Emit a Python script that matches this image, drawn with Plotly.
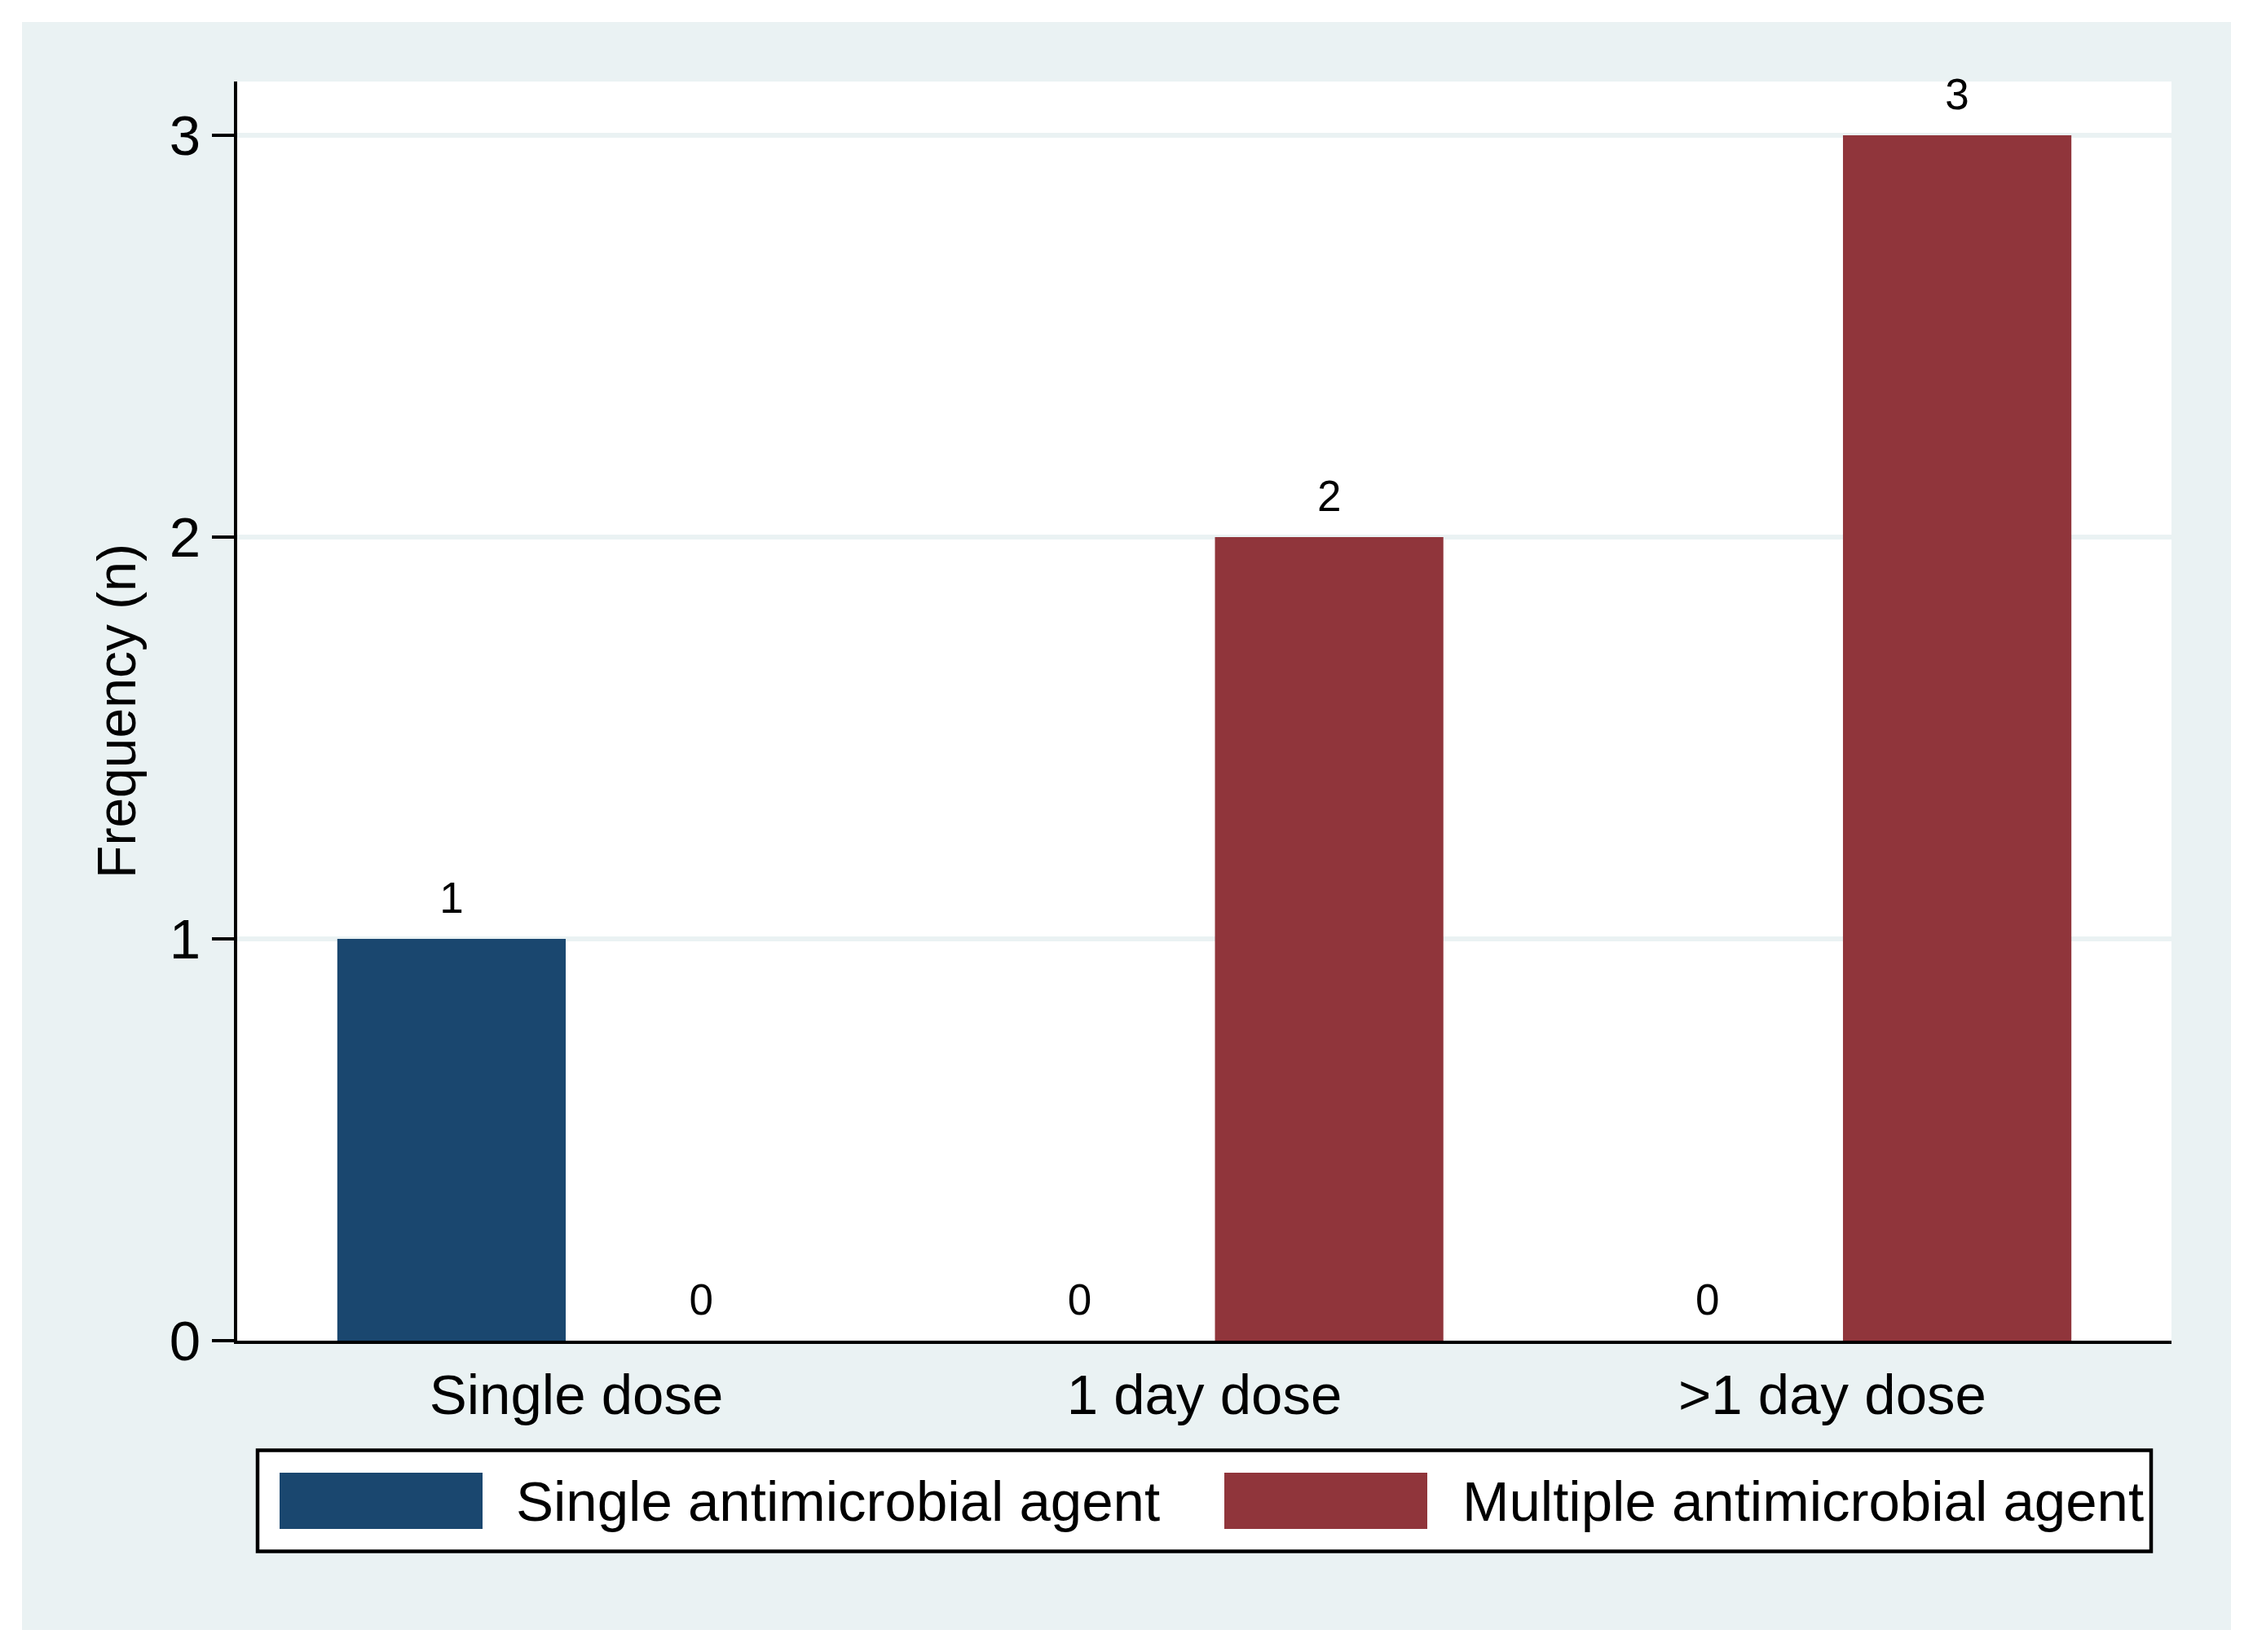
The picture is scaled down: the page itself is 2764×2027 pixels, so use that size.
import plotly.graph_objects as go

# ---- data ----
categories = ["Single dose", "1 day dose", ">1 day dose"]
series_names = ["Single antimicrobial agent", "Multiple antimicrobial agent"]
single_agent = [1, 0, 0]
multiple_agent = [0, 2, 3]
y_ticks = [0, 1, 2, 3]

colors = ["#1A476F", "#90353B"]
FONT = "Liberation Sans, Arial, sans-serif"

# ---- geometry (pixels) ----
OFF = 8  # page body margin
W, H = 2764 - 2 * OFF, 2027 - 2 * OFF
L, T = 291 - OFF, 100 - OFF
R = W - (2664 - OFF)
B = H - (1645 - OFF)
PW, PH = W - L - R, H - T - B


def px(x):
    """page pixel x -> paper x"""
    return (x - OFF - L) / PW


def py(y):
    """page pixel y -> paper y"""
    return (H - B - (y - OFF)) / PH


series_values = [single_agent, multiple_agent]
fig = go.Figure()
for i, (name, vals) in enumerate(zip(series_names, series_values)):
    fig.add_trace(go.Bar(
        x=categories, y=vals, name=name, marker_color=colors[i],
        marker_line_width=0, showlegend=False, offsetgroup=str(i),
    ))
for i, (name, vals) in enumerate(zip(series_names, series_values)):
    fig.add_trace(go.Scatter(
        x=categories, y=vals, mode="markers+text", text=[str(v) for v in vals],
        textposition="top center", textfont=dict(family=FONT, size=53, color="black"),
        marker=dict(size=28, opacity=0), showlegend=False, hoverinfo="skip",
        offsetgroup=str(i), cliponaxis=False,
    ))

shapes = [
    dict(type="rect", xref="paper", yref="paper", x0=px(27), x1=px(2737), y0=py(2000), y1=py(27),
         fillcolor="#EAF2F3", line_width=0, layer="below"),
    dict(type="rect", xref="paper", yref="paper", x0=0, x1=1, y0=0, y1=1,
         fillcolor="white", line_width=0, layer="below"),
    dict(type="rect", xref="paper", yref="paper", x0=px(316), x1=px(2639), y0=py(1903.5), y1=py(1779.5),
         fillcolor="white", line=dict(color="black", width=4.5), layer="above"),
]
swatch_x = [(343, 592), (1502, 1751)]
text_x = [631, 1792]
annotations = []
for i, name in enumerate(series_names):
    shapes.append(dict(type="rect", xref="paper", yref="paper",
                       x0=px(swatch_x[i][0]), x1=px(swatch_x[i][1]), y0=py(1876), y1=py(1807),
                       fillcolor=colors[i], line_width=0, layer="above"))
    annotations.append(dict(xref="paper", yref="paper", x=px(text_x[i]), y=py(1842),
                            xanchor="left", yanchor="middle", text=name, showarrow=False,
                            font=dict(family=FONT, size=69, color="black")))

fig.update_layout(
    width=W, height=H,
    margin=dict(l=L, r=R, t=T, b=B),
    paper_bgcolor="white", plot_bgcolor="rgba(0,0,0,0)",
    barmode="group", bargap=0.205, bargroupgap=0.085,
    scattermode="group", scattergap=0.205,
    font=dict(family=FONT, color="black"),
    shapes=shapes, annotations=annotations,
    showlegend=False,
    xaxis=dict(
        type="category", range=[-0.54, 2.54], showgrid=False, zeroline=False,
        showline=True, linecolor="black", linewidth=4, ticks="",
        tickfont=dict(family=FONT, size=69, color="black"), ticklabelstandoff=3,
    ),
    yaxis=dict(
        range=[0, 3.134], tickvals=y_ticks, ticktext=[str(v) for v in y_ticks],
        showgrid=True, gridcolor="#EAF2F3", gridwidth=6, zeroline=False,
        showline=True, linecolor="black", linewidth=4,
        ticks="outside", ticklen=27, tickwidth=4, tickcolor="black",
        tickfont=dict(family=FONT, size=69, color="black"), ticklabelstandoff=0,
        title=dict(text="Frequency (n)", font=dict(family=FONT, size=66, color="black"), standoff=21),
    ),
)

fig.write_html("out.html")
